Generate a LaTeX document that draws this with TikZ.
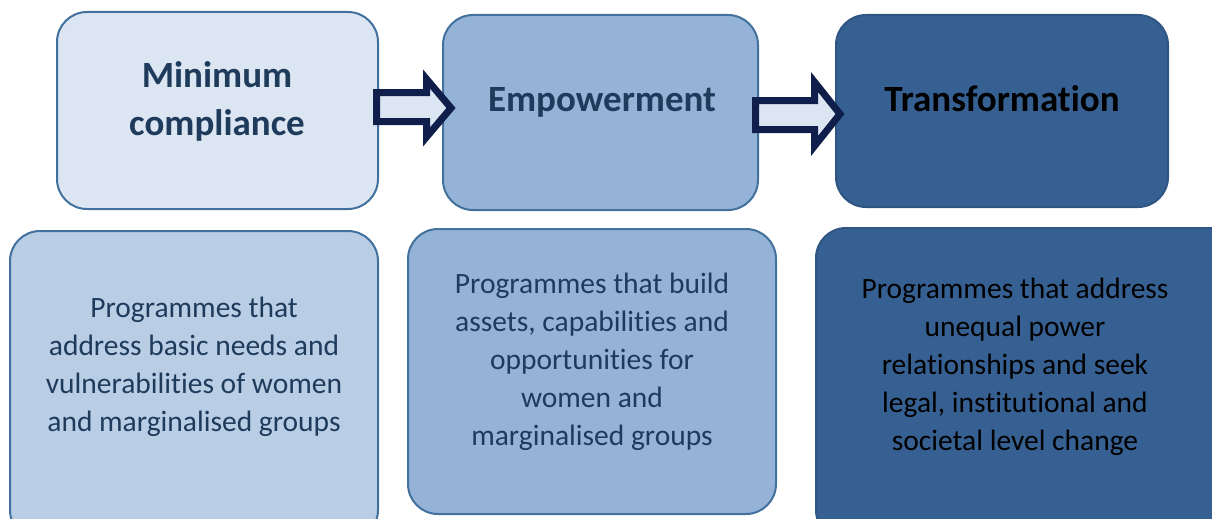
\documentclass[tikz,border=0pt]{standalone}
\usepackage{fontspec}
\setmainfont[Ligatures={NoCommon}]{Carlito}
\definecolor{fillA}{HTML}{DCE6F2}
\definecolor{fillB}{HTML}{B9CDE5}
\definecolor{fillC}{HTML}{95B3D7}
\definecolor{fillD}{HTML}{376092}
\definecolor{edge}{HTML}{41719C}
\definecolor{edgeD}{HTML}{2F5583}
\definecolor{txtblue}{HTML}{1F3B5C}
\definecolor{arrowc}{HTML}{0F1E4A}
\begin{document}
\begin{tikzpicture}[x=1pt,y=-1pt,
  box/.style={draw=edge, line width=2pt, rounded corners=30pt},
  title/.style={font=\fontsize{37}{48}\selectfont\bfseries, align=center, inner sep=0pt},
  body/.style={font=\fontsize{29.5}{38}\selectfont, align=center, inner sep=0pt},
  blockarrow/.style={draw=arrowc, fill=fillA, line width=7pt, miter limit=10}]
\useasboundingbox (0,0) rectangle (1212,519);
\clip (0,0) rectangle (1212,519);
% top boxes
\draw[box, fill=fillA] (57,12) rectangle (378,209);
\draw[box, fill=fillC] (443,15) rectangle (758,210);
\draw[box, fill=fillD, draw=edgeD] (836,15) rectangle (1168,207);
% bottom boxes
\draw[box, fill=fillB] (10,231) rectangle (378,540);
\draw[box, fill=fillC] (408,229) rectangle (776,514);
\draw[box, fill=fillD, draw=edgeD] (816,228) rectangle (1240,540);
% titles
\node[title, text=txtblue] (t1) at (217,101) {Minimum\\compliance};
\node[title, text=txtblue] (t2) at (602,102) {Empowerment};
\node[title, text=black] (t3) at (1002,99) {Transformation};
% body texts
\node[body, text=txtblue] (b1) at (194,367) {Programmes that\\address basic needs and\\vulnerabilities of women\\and marginalised groups};
\node[body, text=txtblue] (b2) at (592,362) {Programmes that build\\assets, capabilities and\\opportunities for\\women and\\marginalised groups};
\node[body, text=black] (b3) at (1015,367) {Programmes that address\\unequal power\\relationships and seek\\legal, institutional and\\societal level change};
% block arrows
\draw[blockarrow] (376.5,92.5) -- (426.5,92.5) -- (426.5,79) -- (451,108) -- (426.5,137) -- (426.5,121.5) -- (376.5,121.5) -- cycle;
\draw[blockarrow] (755.5,100.5) -- (814.5,100.5) -- (814.5,82) -- (840,114) -- (814.5,146) -- (814.5,129.5) -- (755.5,129.5) -- cycle;
\end{tikzpicture}
\end{document}
